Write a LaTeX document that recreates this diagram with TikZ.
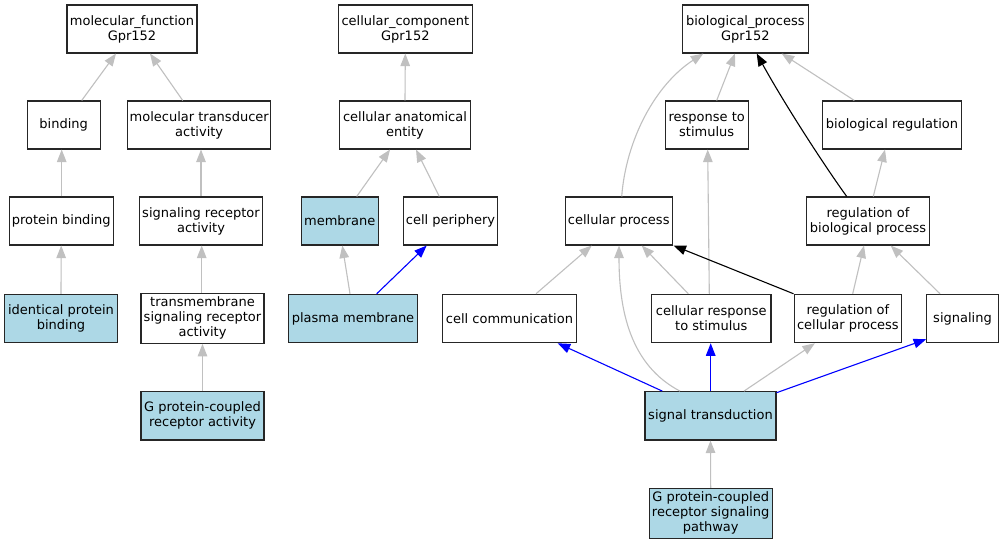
\documentclass[tikz,border=0pt]{standalone}
\usepackage{fontspec}
\setmainfont{DejaVu Sans}
\usetikzlibrary{arrows.meta}
\definecolor{lb}{HTML}{ADD8E6}
\definecolor{edgegray}{HTML}{C0C0C0}
\tikzset{
  term/.style={draw=black!85, line width=1.1pt, fill=white, rectangle, inner sep=0pt,
    align=center, text=black, font=\fontsize{13pt}{15pt}\selectfont},
  hl/.style={term, fill=lb},
  sz/.style 2 args={minimum width=#1pt, minimum height=#2pt},
  tipstyle/.style={-{Triangle[length=12.5pt,width=9.5pt]}},
  isa/.style={draw=edgegray, line width=1.1pt, tipstyle},
  blueedge/.style={draw=blue, line width=1.1pt, tipstyle},
  blackedge/.style={draw=black, line width=1.1pt, tipstyle}
}
\begin{document}
\begin{tikzpicture}[x=1pt,y=-1pt]
\useasboundingbox (0,0) rectangle (1004,544);
\fill[white] (0,0) rectangle (1004,544);

% molecular function branch
\node[term, sz={130}{48}] (mf) at (132,29) {molecular\_function\\Gpr152};
\node[term, sz={72.7}{48}] (bind) at (63.7,125) {binding};
\node[term, sz={143}{48}] (mt) at (199.2,125) {molecular transducer\\activity};
\node[term, sz={104.3}{48}] (pb) at (61.2,221) {protein binding};
\node[term, sz={123.4}{48}] (sra) at (201,221) {signaling receptor\\activity};
\node[hl, sz={112.6}{48}] (ipb) at (61,318.3) {identical protein\\binding};
\node[term, sz={123}{50}] (tm) at (202.5,318.3) {transmembrane\\signaling receptor\\activity};
\node[hl, sz={123}{48.3}] (gpcra) at (202.5,415.8) {G protein-coupled\\receptor activity};

% cellular component branch
\node[term, sz={134}{48}] (cc) at (405.3,29) {cellular\_component\\Gpr152};
\node[term, sz={131.4}{48}] (cae) at (405,125) {cellular anatomical\\entity};
\node[hl, sz={77.3}{48}] (mem) at (339.7,221) {membrane};
\node[term, sz={94.4}{48}] (cper) at (450.5,221) {cell periphery};
\node[hl, sz={129.4}{48.4}] (pm) at (353,318.5) {plasma membrane};

% biological process branch
\node[term, sz={126}{48}] (bp) at (745.3,29) {biological\_process\\Gpr152};
\node[term, sz={83.3}{48}] (rts) at (706.7,125) {response to\\stimulus};
\node[term, sz={139.4}{48}] (breg) at (892,125) {biological regulation};
\node[term, sz={107.3}{48}] (cp) at (618.7,221) {cellular process};
\node[term, sz={122.6}{48}] (rbp) at (868,221) {regulation of\\biological process};
\node[term, sz={134.4}{48.4}] (ccomm) at (509.5,318.5) {cell communication};
\node[term, sz={119.3}{48.4}] (crs) at (711.3,318.5) {cellular response\\to stimulus};
\node[term, sz={107.7}{48.4}] (rcp) at (847.9,318.5) {regulation of\\cellular process};
\node[term, sz={71.6}{48.4}] (sig) at (962.5,318.5) {signaling};
\node[hl, sz={131}{48.3}] (st) at (710.5,415.8) {signal transduction};
\node[hl, sz={123.3}{50}] (gpcrp) at (710.7,513.3) {G protein-coupled\\receptor signaling\\pathway};

% edges: molecular function
\draw[isa] ([xshift=18pt]bind.north) -- ([xshift=-16pt]mf.south);
\draw[isa] ([xshift=-16.5pt]mt.north) -- ([xshift=18pt]mf.south);
\draw[isa] ([xshift=0.5pt]pb.north) -- ([xshift=-2pt]bind.south);
\draw[isa] (sra.north) -- ([xshift=1.8pt]mt.south);
\draw[isa] (ipb.north) -- (pb.south);
\draw[isa] ([xshift=-0.8pt]tm.north) -- ([xshift=0.7pt]sra.south);
\draw[isa] (gpcra.north) -- (tm.south);

% edges: cellular component
\draw[isa] (cae.north) -- (cc.south);
\draw[isa] ([xshift=17pt]mem.north) -- ([xshift=-15pt]cae.south);
\draw[isa] ([xshift=-11.2pt]cper.north) -- ([xshift=11pt]cae.south);
\draw[isa] ([xshift=-3pt]pm.north) -- ([xshift=2.6pt]mem.south);
\draw[blueedge] ([xshift=23.7pt]pm.north) -- ([xshift=-23.8pt]cper.south);

% edges: biological process
\draw[isa] ([xshift=10pt]rts.north) -- ([xshift=-10.3pt]bp.south);
\draw[isa] ([xshift=-37.7pt]breg.north) -- ([xshift=36.4pt]bp.south);
\draw[isa] ([xshift=3pt]cp.north) .. controls (626,140) and (655,85) .. ([xshift=-42pt]bp.south);
\draw[blackedge] ([xshift=-21.3pt]rbp.north) .. controls (826,168) and (785,105) .. ([xshift=11.4pt]bp.south);
\draw[isa] ([xshift=5.3pt]rbp.north) -- ([xshift=-7pt]breg.south);
\draw[isa] ([xshift=26.5pt]ccomm.north) -- ([xshift=-27pt]cp.south);
\draw[isa] ([xshift=-23pt]crs.north) -- ([xshift=23pt]cp.south);
\draw[isa] ([xshift=-2pt]crs.north) -- ([xshift=1pt]rts.south);
\draw[blackedge] (rcp.north west) -- ([xshift=0.6pt]cp.south east);
\draw[isa] ([xshift=4.8pt]rcp.north) -- ([xshift=-4pt]rbp.south);
\draw[isa] ([xshift=-22.5pt]sig.north) -- ([xshift=22.7pt]rbp.south);
\draw[blueedge] ([xshift=-48.2pt]st.north) -- ([xshift=48.2pt]ccomm.south);
\draw[isa] ([xshift=-30.5pt]st.north) .. controls (630,365) and (619,310) .. ([xshift=0.3pt]cp.south);
\draw[blueedge] ([xshift=0.2pt]st.north) -- ([xshift=-0.6pt]crs.south);
\draw[isa] ([xshift=33.5pt]st.north) -- ([xshift=-33pt]rcp.south);
\draw[blueedge] ([yshift=-1.6pt]st.north east) -- ([yshift=4pt]sig.south west);
\draw[isa] (gpcrp.north) -- (st.south);
\end{tikzpicture}
\end{document}
